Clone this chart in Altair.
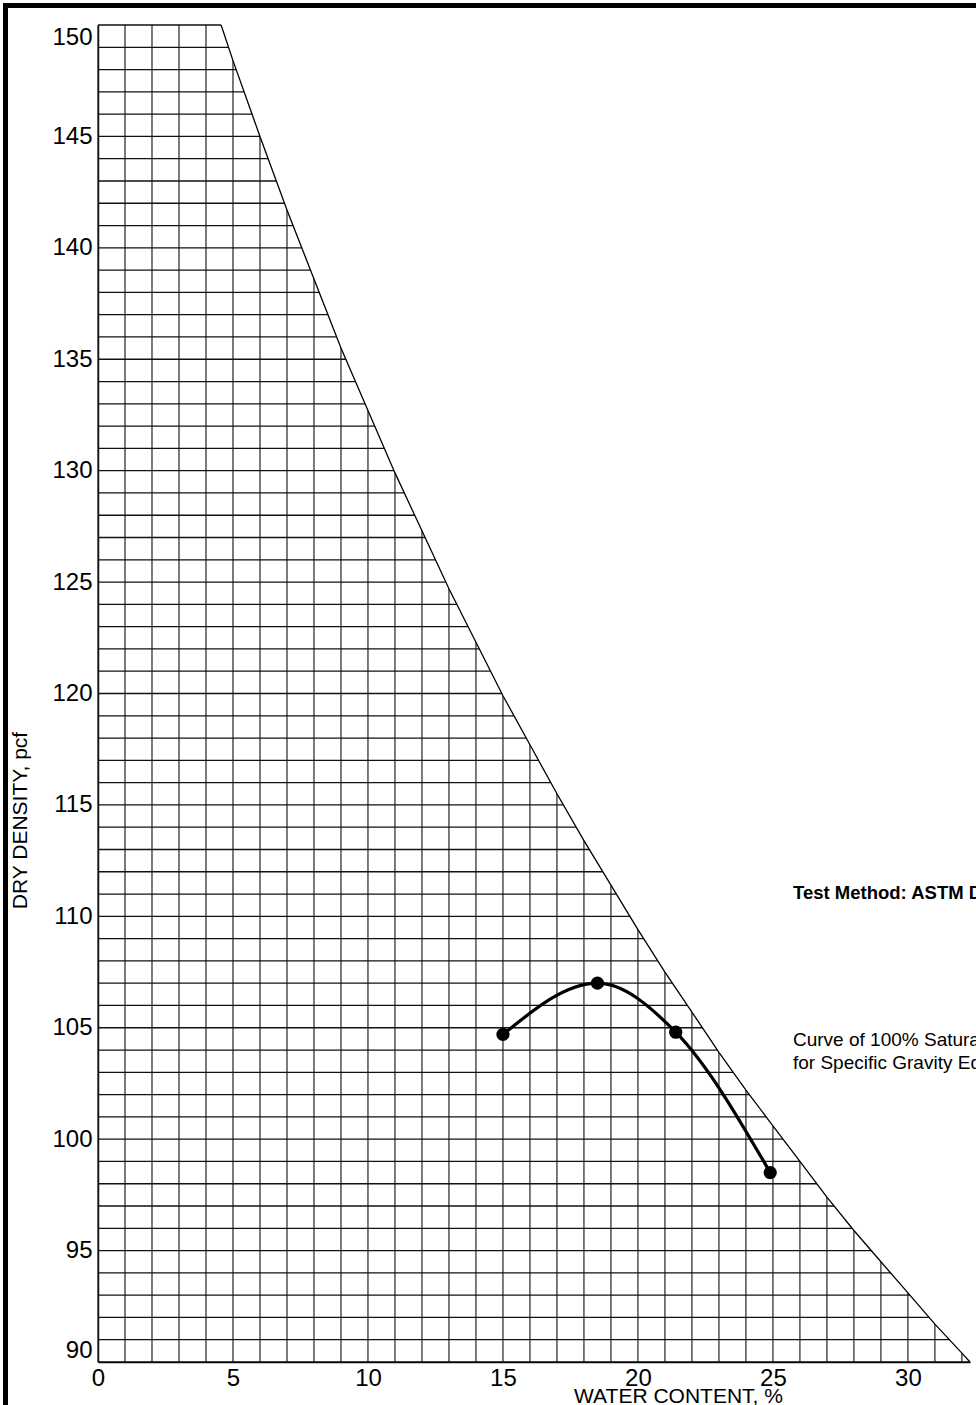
import altair as alt
import pandas as pd

# Compaction test points (water content %, dry density pcf)
test_w = [15.0, 18.5, 21.4, 24.9]
test_d = [104.7, 107.0, 104.8, 98.5]

# Zero-air-voids (100% saturation) curve
zav_w = [4.56, 5, 6, 7, 8, 9, 10, 11, 12, 13, 14, 15, 16, 17, 18, 19, 20,
         21, 22, 23, 24, 25, 26, 27, 28, 29, 30, 31, 32, 32.3]
zav_d = [150.0, 148.4, 145.0, 141.7, 138.6, 135.5, 132.7, 129.9, 127.3, 124.7,
         122.3, 119.9, 117.7, 115.5, 113.4, 111.4, 109.4, 107.5, 105.7, 103.9,
         102.2, 100.6, 99.0, 97.4, 95.9, 94.5, 93.1, 91.7, 90.4, 90.0]

# Grid lines (every 1 % and every 1 pcf)
grid_w = list(range(0, 33))
grid_d = list(range(90, 151))

# Axis labels
x_ticks = [0, 5, 10, 15, 20, 25, 30]
y_ticks = [90, 95, 100, 105, 110, 115, 120, 125, 130, 135, 140, 145, 150]

note_bold = ["Test Method: ASTM D698"]
note_line1 = ["Curve of 100% Saturation"]
note_line2 = ["for Specific Gravity Equal to 2.70"]

FONT = "Liberation Sans"

xs = alt.Scale(domain=[0, 32.3], nice=False, zero=False)
ys = alt.Scale(domain=[90, 150], nice=False, zero=False)

x_axis = alt.Axis(values=x_ticks, title="WATER CONTENT, %", labelFlush=False,
                  labelPadding=4, titleX=580, titleY=40,
                  titleBaseline="alphabetic", titleAlign="center")
y_axis = alt.Axis(values=y_ticks, title="DRY DENSITY, pcf", labelFlush=True,
                  labelPadding=6, titleX=-78, titleY=795, titleAngle=270,
                  titleBaseline="middle", titleAlign="center")

X = alt.X("w:Q", scale=xs, axis=x_axis)
Y = alt.Y("d:Q", scale=ys, axis=y_axis)

gw = pd.DataFrame({"w": grid_w})
gd = pd.DataFrame({"d": grid_d})
zav = pd.DataFrame({"w": zav_w, "d": zav_d})
tst = pd.DataFrame({"w": test_w, "d": test_d})

vgrid = alt.Chart(gw).mark_rule(color="#222222", strokeWidth=1.2).encode(x=X)
hgrid = alt.Chart(gd).mark_rule(color="#111111", strokeWidth=1.3).encode(y=Y)

mask = alt.Chart(zav).mark_area(color="white", orient="vertical", opacity=1).encode(
    x=X, y=Y, y2=alt.datum(151))

zav_line = alt.Chart(zav).mark_line(color="black", strokeWidth=1.3).encode(
    x=X, y=Y, order="w:Q")

curve = alt.Chart(tst).mark_line(color="black", strokeWidth=3.2,
                                 interpolate="monotone").encode(
    x=X, y=Y, order="w:Q")

pts = alt.Chart(tst).mark_circle(color="black", opacity=1, size=175).encode(x=X, y=Y)


def note(lines, ypix, bold=False, size=19):
    return alt.Chart(pd.DataFrame({"t": lines})).mark_text(
        font=FONT, fontSize=size, fontWeight="bold" if bold else "normal",
        align="left", baseline="middle", color="black").encode(
        text="t:N", x=alt.value(695), y=alt.value(ypix))


t_bold = note(note_bold, 868, bold=True, size=18.5)
t_l1 = note(note_line1, 1015)
t_l2 = note(note_line2, 1038)

border_left = alt.Chart(pd.DataFrame({"a": [0]})).mark_rule(
    color="black", strokeWidth=5).encode(
    x=alt.value(-92.5), y=alt.value(-22), y2=alt.value(1385))
border_top = alt.Chart(pd.DataFrame({"a": [0]})).mark_rule(
    color="black", strokeWidth=5).encode(
    x=alt.value(-95), x2=alt.value(880), y=alt.value(-19.5))

chart = alt.layer(vgrid, hgrid, mask, zav_line, curve, pts, t_bold, t_l1, t_l2,
                  border_left, border_top).properties(
    width=872, height=1337,
    padding={"left": 98, "top": 25, "right": 6, "bottom": 43},
    autosize=alt.AutoSizeParams(type="none"),
    background="white",
).configure_view(strokeWidth=0).configure_axis(
    labelFont=FONT, labelFontSize=24, labelColor="black",
    titleFont=FONT, titleFontSize=21, titleFontWeight="normal", titleColor="black",
    domainColor="black", domainWidth=1.5, ticks=False, tickSize=0, grid=False,
    zindex=1,
)

chart.save("out.html", embed_options={"renderer": "svg", "actions": False})
